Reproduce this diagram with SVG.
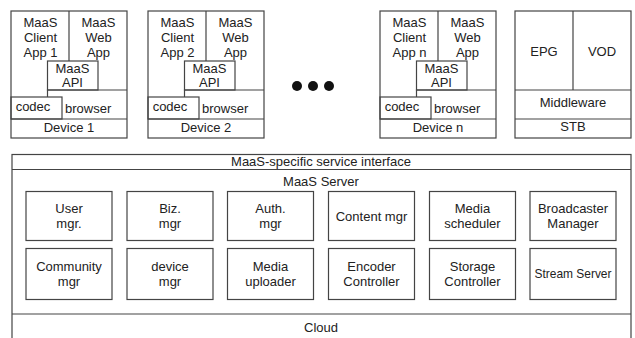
<svg xmlns="http://www.w3.org/2000/svg" width="635" height="338" viewBox="0 0 635 338">
  <style>
    .ln { fill: none; stroke: #444; stroke-width: 1.2; }
    .bx { fill: #fff; stroke: #444; stroke-width: 1.2; }
    text { font-family: "Liberation Sans", Arial, sans-serif; font-size: 13px; fill: #222; text-anchor: middle; }
    .l { text-anchor: start; }
    .dot { fill: #111; }
  </style>
  <rect width="635" height="338" fill="#fff"/>

  <!-- client devices: same stack, shifted per device -->
  <defs>
    <g id="stack">
      <rect class="ln" x="0" y="0" width="116" height="127"/>
      <line class="ln" x1="58" y1="0" x2="58" y2="50"/>
      <rect class="bx" x="36.5" y="50" width="50.5" height="29"/>
      <polyline class="ln" points="36.5,86 36.5,79 116,79"/>
      <rect class="ln" x="0" y="86" width="51" height="22"/>
      <line class="ln" x1="0" y1="108" x2="116" y2="108"/>
      <text x="29.5" y="16">MaaS</text>
      <text x="87.5" y="16">MaaS</text>
      <text x="87.5" y="31">Web</text>
      <text x="87.5" y="46">App</text>
      <text x="61.5" y="61.5">MaaS</text>
      <text x="61.5" y="75.5">API</text>
      <text x="22" y="100">codec</text>
      <text class="l" x="54" y="102">browser</text>
    </g>
  </defs>

  <g id="device1" transform="translate(11,11)">
    <use href="#stack"/>
    <text x="29.5" y="31">Client</text>
    <text x="29.5" y="46">App 1</text>
    <text x="58" y="121">Device 1</text>
  </g>
  <g id="device2" transform="translate(148,11)">
    <use href="#stack"/>
    <text x="29.5" y="31">Client</text>
    <text x="29.5" y="46">App 2</text>
    <text x="58" y="121">Device 2</text>
  </g>
  <g id="devicen" transform="translate(380,11)">
    <use href="#stack"/>
    <text x="29.5" y="31">Client</text>
    <text x="29.5" y="46">App n</text>
    <text x="58" y="121">Device n</text>
  </g>

  <g id="ellipsis">
    <circle class="dot" cx="297" cy="86" r="5"/>
    <circle class="dot" cx="313" cy="86" r="5"/>
    <circle class="dot" cx="329" cy="86" r="5"/>
  </g>

  <g id="stb" transform="translate(515,11)">
    <rect class="ln" x="0" y="0" width="116" height="127"/>
    <line class="ln" x1="58" y1="0" x2="58" y2="79"/>
    <line class="ln" x1="0" y1="79" x2="116" y2="79"/>
    <line class="ln" x1="0" y1="108" x2="116" y2="108"/>
    <text x="29" y="45">EPG</text>
    <text x="87" y="45">VOD</text>
    <text x="58" y="96">Middleware</text>
    <text x="58" y="120">STB</text>
  </g>

  <!-- cloud platform -->
  <g id="cloud">
    <rect class="ln" x="12" y="154.5" width="619" height="190"/>
    <line class="ln" x1="12" y1="169.5" x2="631" y2="169.5"/>
    <line class="ln" x1="12" y1="314" x2="631" y2="314"/>
    <text x="321" y="166">MaaS-specific service interface</text>
    <text x="321" y="186">MaaS Server</text>
    <text x="321" y="332">Cloud</text>
  </g>

  <g id="user-mgr"><rect class="bx" x="26" y="191.5" width="86" height="49"/><text x="69" y="213">User</text><text x="69" y="228">mgr.</text></g>
  <g id="biz-mgr"><rect class="bx" x="127" y="191.5" width="86" height="49"/><text x="170" y="213">Biz.</text><text x="170" y="228">mgr</text></g>
  <g id="auth-mgr"><rect class="bx" x="227.5" y="191.5" width="86" height="49"/><text x="270.5" y="213">Auth.</text><text x="270.5" y="228">mgr</text></g>
  <g id="content-mgr"><rect class="bx" x="328.5" y="191.5" width="86" height="49"/><text x="371.5" y="221">Content mgr</text></g>
  <g id="media-scheduler"><rect class="bx" x="429.5" y="191.5" width="86" height="49"/><text x="472.5" y="213">Media</text><text x="472.5" y="228">scheduler</text></g>
  <g id="broadcaster-manager"><rect class="bx" x="530" y="191.5" width="86" height="49"/><text x="573" y="213">Broadcaster</text><text x="573" y="228">Manager</text></g>

  <g id="community-mgr"><rect class="bx" x="26" y="248.5" width="86" height="51"/><text x="69" y="271">Community</text><text x="69" y="286">mgr</text></g>
  <g id="device-mgr"><rect class="bx" x="127" y="248.5" width="86" height="51"/><text x="170" y="271">device</text><text x="170" y="286">mgr</text></g>
  <g id="media-uploader"><rect class="bx" x="227.5" y="248.5" width="86" height="51"/><text x="270.5" y="271">Media</text><text x="270.5" y="286">uploader</text></g>
  <g id="encoder-controller"><rect class="bx" x="328.5" y="248.5" width="86" height="51"/><text x="371.5" y="271">Encoder</text><text x="371.5" y="286">Controller</text></g>
  <g id="storage-controller"><rect class="bx" x="429.5" y="248.5" width="86" height="51"/><text x="472.5" y="271">Storage</text><text x="472.5" y="286">Controller</text></g>
  <g id="stream-server"><rect class="bx" x="530" y="248.5" width="86" height="51"/><text x="573" y="278" textLength="77" lengthAdjust="spacingAndGlyphs">Stream Server</text></g>
</svg>
